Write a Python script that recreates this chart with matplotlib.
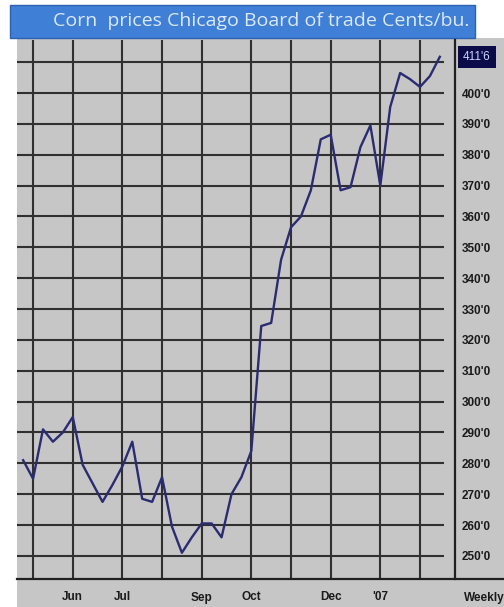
import numpy as np
import matplotlib.pyplot as plt
from matplotlib.patches import Rectangle
from matplotlib.lines import Line2D

# weekly corn prices, cents/bu (CBOT)
weeks = np.arange(43)
prices = [281, 275, 291, 287, 290, 295, 279.5, 273.5, 267.5, 273, 279, 287,
          268.5, 267.5, 275.5, 259.5, 251, 256, 260.5, 260.5, 256, 270, 275.5,
          284, 324.5, 325.5, 346, 356.5, 360, 368.5, 385, 386.5, 368.5, 369.5,
          382.5, 389.5, 370, 395.5, 406.5, 404.5, 402, 405.5, 411.75]
month_weeks = [1, 5, 10, 14, 18, 23, 27, 31, 36, 40]
month_labels = ['', 'Jun', 'Jul', '', 'Sep', 'Oct', '', 'Dec', "'07", '']
grid_prices = list(range(250, 420, 10))
tick_prices = list(range(250, 410, 10))
tick_labels = ["%d'0" % p for p in tick_prices]
last_label = "411'6"
title = "Corn  prices Chicago Board of trade Cents/bu."

W, H = 504, 607
gray = '#c6c6c6'
gridc = '#303030'

fig = plt.figure(figsize=(W / 100, H / 100), dpi=100)
fig.patch.set_facecolor('white')

# gray panel behind everything
fig.patches.append(Rectangle((17 / W, 0), 1 - 17 / W, 1 - 38 / H,
                             transform=fig.transFigure, facecolor=gray,
                             edgecolor='none', zorder=-10))
# title bar
fig.patches.append(Rectangle((10 / W, 1 - 38 / H), 465 / W, 33 / H,
                             transform=fig.transFigure, facecolor='#3f7fd6',
                             edgecolor='#2d62b0', lw=1, zorder=-5))
fig.text(0.518, 1 - 21 / H, title, color='#dce9ff', fontsize=14,
         family='Open Sans', ha='center', va='center', zorder=2)

ax = fig.add_axes([17 / W, 28 / H, (455 - 17) / W, (579 - 40) / H])
ax.set_facecolor(gray)
ax.set_xlim(-0.62, 43.53)
ax.set_ylim(242.5, 417.2)

ax.hlines(grid_prices, -0.62, 42.4, color=gridc, lw=1.5, zorder=1)
for w in month_weeks:
    ax.axvline(w, color=gridc, lw=1.5, zorder=1)

ax.plot(weeks, prices, color='#2b2b72', lw=1.7, zorder=3)

for s in ['top', 'left', 'bottom']:
    ax.spines[s].set_visible(False)
ax.spines['right'].set_color('#202020')
ax.spines['right'].set_linewidth(1.6)

ax.yaxis.tick_right()
ax.set_yticks(tick_prices, tick_labels)
ax.tick_params(axis='y', length=0, pad=5, labelsize=8.5, labelcolor='#1a1a1a')
for lab in ax.get_yticklabels():
    lab.set_fontweight('bold')
    lab.set_family('Liberation Sans')

ax.set_xticks(month_weeks, month_labels)
ax.tick_params(axis='x', length=0, pad=9, labelsize=8.5, labelcolor='#1a1a1a')
for lab in ax.get_xticklabels():
    lab.set_fontweight('bold')
    lab.set_family('Liberation Sans')

# highlighted last price
ax.text(1.018, 411.75, last_label, transform=ax.get_yaxis_transform(),
        ha='left', va='center', fontsize=8.5, color='#c8d4ff',
        family='Liberation Sans',
        bbox=dict(boxstyle='square,pad=0.45', facecolor='#0b0b4a',
                  edgecolor='none'), clip_on=False)

# bottom axis line runs across to the right edge
fig.lines.append(Line2D([17 / W, 1], [28 / H, 28 / H], transform=fig.transFigure,
                        color='#202020', lw=1.6))
fig.text(484 / W, 1 - 598 / H, 'Weekly', fontsize=8.5, fontweight='bold',
         family='Liberation Sans', color='#1a1a1a', ha='center', va='center')

fig.savefig('out.png', dpi=100, facecolor=fig.get_facecolor())
